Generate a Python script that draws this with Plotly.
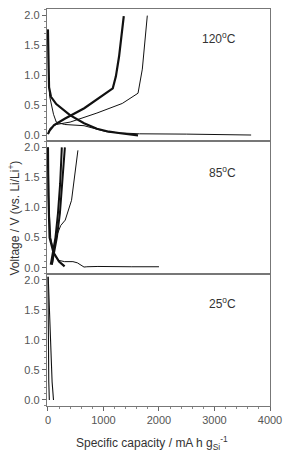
import plotly.graph_objects as go
from plotly.subplots import make_subplots

# ---- data (capacity mA h g^-1, voltage V) ----
# 120 C panel
d120_thick_cap = [0, 5, 20, 55, 150, 397, 650, 882, 1100, 1339, 1500, 1623]
d120_thick_v = [1.76, 1.2, 0.8, 0.64, 0.52, 0.335, 0.2, 0.11, 0.06, 0.03, 0.015, 0.0]
d120_thin_cap = [0, 10, 30, 60, 100, 150, 300, 650, 1050, 1300, 1650, 2500, 3660]
d120_thin_v = [1.76, 1.0, 0.65, 0.5, 0.35, 0.22, 0.18, 0.16, 0.06, 0.04, 0.025, 0.02, 0.005]
c120_thick_cap = [0, 30, 110, 310, 654, 882, 1110, 1168, 1224, 1281, 1366]
c120_thick_v = [0.02, 0.08, 0.17, 0.28, 0.45, 0.59, 0.73, 0.78, 0.98, 1.31, 1.98]
c120_thin_cap = [0, 40, 150, 400, 882, 1339, 1623, 1660, 1700, 1790]
c120_thin_v = [0.02, 0.12, 0.18, 0.22, 0.37, 0.53, 0.70, 0.87, 1.1, 1.99]

# 85 C panel
d85_thin_cap = [0, 8, 25, 50, 100, 140, 200, 300, 450, 530, 600, 650, 700, 900, 1500, 2000]
d85_thin_v = [2.0, 1.5, 0.9, 0.5, 0.28, 0.18, 0.12, 0.1, 0.1, 0.08, 0.04, 0.01, 0.015, 0.02, 0.015, 0.015]
d85_thick_cap = [0, 8, 30, 100, 200, 300]
d85_thick_v = [2.0, 1.2, 0.5, 0.25, 0.1, 0.02]
c85_thick_a_cap = [50, 90, 135, 180, 220, 250]
c85_thick_a_v = [0.05, 0.25, 0.5, 0.9, 1.4, 2.0]
c85_thick_b_cap = [70, 110, 160, 215, 260, 305]
c85_thick_b_v = [0.05, 0.25, 0.5, 0.9, 1.4, 2.0]
c85_thin_cap = [80, 110, 140, 230, 311, 425, 540]
c85_thin_v = [0.05, 0.3, 0.49, 0.7, 0.79, 1.12, 1.95]

# 25 C panel
d25_cap = [0, 5, 15, 25]
d25_v = [2.05, 1.0, 0.3, 0.0]
c25_cap = [5, 40, 75, 100]
c25_v = [2.05, 1.0, 0.3, 0.0]

temps = ["120<sup>o</sup>C", "85<sup>o</sup>C", "25<sup>o</sup>C"]
y_ticks = [0.0, 0.5, 1.0, 1.5, 2.0]
y_ticklabels = ["0.0", "0.5", "1.0", "1.5", "2.0"]
x_ticks = [0, 1000, 2000, 3000, 4000]

fig = make_subplots(rows=3, cols=1, shared_xaxes=True, vertical_spacing=0)

def add(cap, v, row, w):
    fig.add_trace(go.Scatter(x=cap, y=v, mode="lines", line=dict(color="#111111", width=w),
                             showlegend=False, hoverinfo="skip"), row=row, col=1)

add(d120_thin_cap, d120_thin_v, 1, 1.0)
add(c120_thin_cap, c120_thin_v, 1, 1.0)
add(d120_thick_cap, d120_thick_v, 1, 2.2)
add(c120_thick_cap, c120_thick_v, 1, 2.2)

add(d85_thin_cap, d85_thin_v, 2, 1.0)
add(c85_thin_cap, c85_thin_v, 2, 1.0)
add(d85_thick_cap, d85_thick_v, 2, 2.2)
add(c85_thick_a_cap, c85_thick_a_v, 2, 2.0)
add(c85_thick_b_cap, c85_thick_b_v, 2, 2.0)

add(d25_cap, d25_v, 3, 1.1)
add(c25_cap, c25_v, 3, 1.1)

font = "Liberation Sans, Arial, sans-serif"
for r in (1, 2, 3):
    fig.update_yaxes(range=[-0.1, 2.1], tickvals=y_ticks, ticktext=y_ticklabels,
                     ticks="outside", ticklen=4, tickcolor="#666", tickwidth=1,
                     minor=dict(dtick=0.1, ticks="outside", ticklen=2, tickcolor="#888"),
                     showline=True, linecolor="#777", linewidth=1.3, mirror=True,
                     showgrid=False, zeroline=False,
                     tickfont=dict(family=font, size=11, color="#555"), row=r, col=1)
    fig.update_xaxes(range=[-17, 4000], tickvals=x_ticks,
                     showline=True, linecolor="#777", linewidth=1.3, mirror=True,
                     showgrid=False, zeroline=False,
                     tickfont=dict(family=font, size=11, color="#555"), row=r, col=1)
fig.update_xaxes(ticks="outside", ticklen=4, tickcolor="#666", ticklabeloverflow="allow",
                 minor=dict(dtick=200, ticks="outside", ticklen=2, tickcolor="#888"),
                 row=3, col=1)

ann_y = [0.927, 0.589, 0.259]
for t, yy in zip(temps, ann_y):
    fig.add_annotation(text=t, xref="paper", yref="paper", x=0.855, y=yy,
                       xanchor="right", yanchor="middle", showarrow=False,
                       font=dict(family=font, size=12, color="#333"))

fig.add_annotation(text="Voltage / V (vs. Li/Li<sup>+</sup>)", xref="paper", yref="paper",
                   x=-0.149, y=0.474, textangle=-90, xanchor="center", yanchor="middle",
                   showarrow=False, font=dict(family=font, size=12, color="#333"))
fig.add_annotation(text="Specific capacity / mA h g<sub>Si</sub><sup>-1</sup>", xref="paper",
                   yref="paper", x=0.472, y=-0.093, xanchor="center", yanchor="middle",
                   showarrow=False, font=dict(family=font, size=12, color="#333"))

fig.update_layout(width=290, height=454, margin=dict(l=47, r=8, t=9, b=48),
                  plot_bgcolor="white", paper_bgcolor="white")
fig.write_html("out.html")
